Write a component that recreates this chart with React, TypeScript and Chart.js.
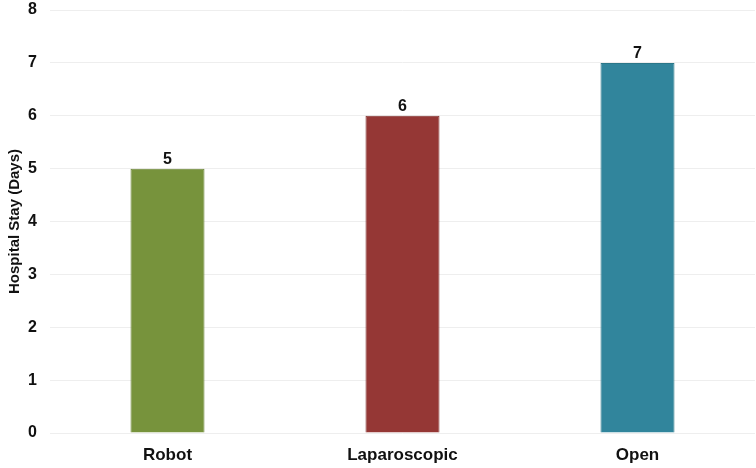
import React, { useEffect, useRef } from "react";
import { Chart, registerables } from "chart.js";

Chart.register(...registerables);

const categories = ["Robot", "Laparoscopic", "Open"];
const stayDays = [5, 6, 7];
const barColors = ["#77933C", "#953735", "#31859C"];
const borderColors = ["#6a8435", "#83302e", "#2b7789"];
const yTicks = [0, 1, 2, 3, 4, 5, 6, 7, 8];

const FONT = "'Liberation Sans', Arial, sans-serif";

const valueLabels = {
  id: "valueLabels",
  afterDatasetsDraw(chart: any) {
    const ctx = chart.ctx;
    const meta = chart.getDatasetMeta(0);
    ctx.save();
    ctx.font = `bold 16px ${FONT}`;
    ctx.fillStyle = "#111";
    ctx.textAlign = "center";
    ctx.textBaseline = "alphabetic";
    meta.data.forEach((bar: any, i: number) => {
      ctx.fillText(String(stayDays[i]), bar.x, bar.y - 5);
    });
    ctx.restore();
  },
};

export default function App() {
  const ref = useRef<HTMLCanvasElement>(null);
  useEffect(() => {
    if (!ref.current) return;
    const chart = new Chart(ref.current, {
      type: "bar",
      data: {
        labels: categories,
        datasets: [
          {
            data: stayDays,
            backgroundColor: barColors,
            borderColor: borderColors,
            borderWidth: 1,
            categoryPercentage: 0.35,
            barPercentage: 0.9,
          },
        ],
      },
      options: {
        animation: false,
        responsive: true,
        maintainAspectRatio: false,
        layout: { padding: { top: 10, right: 1, left: 0, bottom: 0 } },
        plugins: {
          legend: { display: false },
          tooltip: { enabled: false },
        },
        scales: {
          x: {
            grid: { display: false, drawTicks: false },
            border: { display: false },
            ticks: {
              color: "#111",
              font: { family: FONT, size: 17, weight: "bold" },
              padding: 12,
            },
            afterFit: (axis: any) => {
              axis.height = 35;
            },
          },
          y: {
            min: 0,
            max: 8,
            afterBuildTicks: (axis: any) => {
              axis.ticks = yTicks.map((v) => ({ value: v }));
            },
            grid: { color: "#eeeeee", drawTicks: false },
            border: { display: false },
            ticks: {
              color: "#111",
              font: { family: FONT, size: 16, weight: "bold" },
              padding: 13,
            },
            title: {
              display: true,
              text: "Hospital Stay (Days)",
              color: "#111",
              font: { family: FONT, size: 15, weight: "bold" },
              padding: { top: 6, bottom: 0 },
            },
            afterFit: (axis: any) => {
              axis.width = 50;
              axis.paddingTop = 0;
              axis.paddingBottom = 0;
            },
          },
        },
      },
      plugins: [valueLabels],
    });
    return () => chart.destroy();
  }, []);
  return (
    <div style={{ position: "fixed", left: 0, top: 0, width: 756, height: 468 }}>
      <canvas ref={ref} />
    </div>
  );
}
